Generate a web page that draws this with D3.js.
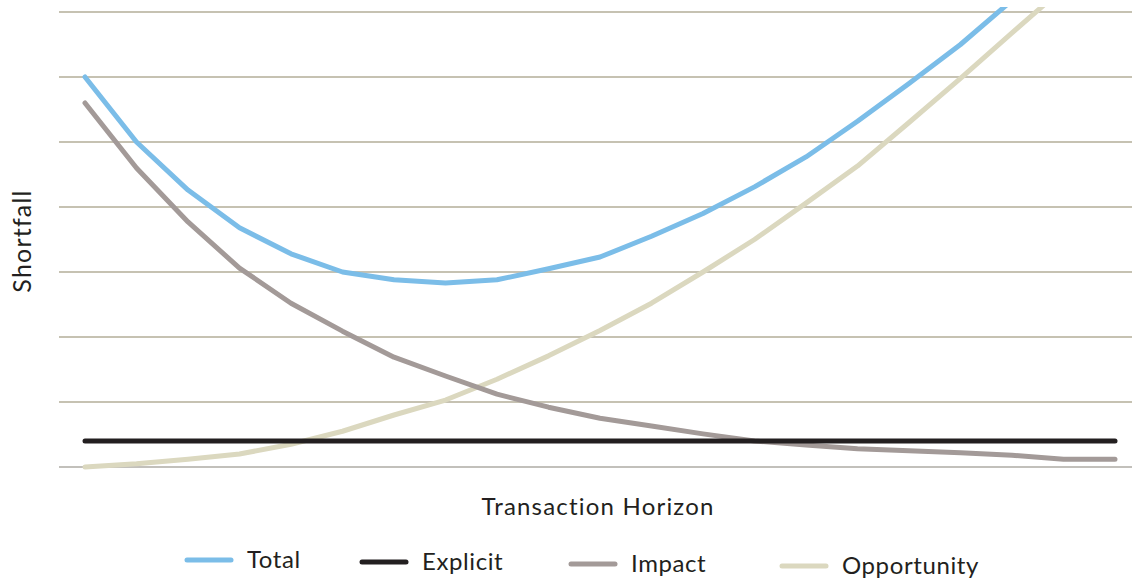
<!DOCTYPE html>
<html>
<head>
<meta charset="utf-8">
<script src="https://d3js.org/d3.v7.min.js"></script>
<style>
  body { margin: 0; background: #fff; }
  text { font-family: Lato, "Open Sans", sans-serif; fill: #231f20; }
</style>
</head>
<body>
<svg id="chart" width="1132" height="581"></svg>
<script>
  // horizon steps 0..20
  var steps = d3.range(21)
  var total = [6.0, 5.0, 4.26, 3.68, 3.28, 3.0, 2.88, 2.83, 2.88, 3.05, 3.23, 3.55, 3.9, 4.31, 4.77, 5.32, 5.9, 6.5, 7.18, 7.9, 8.7]
  var explicit = [0.4, 0.4, 0.4, 0.4, 0.4, 0.4, 0.4, 0.4, 0.4, 0.4, 0.4, 0.4, 0.4, 0.4, 0.4, 0.4, 0.4, 0.4, 0.4, 0.4, 0.4]
  var impact = [5.6, 4.6, 3.77, 3.06, 2.52, 2.09, 1.69, 1.4, 1.12, 0.92, 0.75, 0.63, 0.51, 0.4, 0.34, 0.28, 0.25, 0.22, 0.18, 0.12, 0.12]
  var opportunity = [0, 0.05, 0.12, 0.2, 0.35, 0.55, 0.8, 1.03, 1.35, 1.71, 2.1, 2.52, 3.0, 3.5, 4.06, 4.63, 5.3, 5.98, 6.68, 7.37, 8.1]
  var gridTicks = [1, 2, 3, 4, 5, 6, 7]
  var seriesNames = ["Total", "Explicit", "Impact", "Opportunity"]

  var colors = {Total: "#7bbde8", Explicit: "#231f20", Impact: "#a39a98", Opportunity: "#dbd8bf"}
  var seriesData = {Total: total, Explicit: explicit, Impact: impact, Opportunity: opportunity}

  var svg = d3.select("#chart")
  var margin = {top: 7, left: 59, right: 0, bottom: 114}
  var width = 1132, height = 581

  var x = d3.scaleLinear().domain([0, 20]).range([85, 1115])
  var y = d3.scaleLinear().domain([0, 7]).range([467, 12])

  // gridlines
  svg.append("g")
    .selectAll("line")
    .data(gridTicks)
    .join("line")
    .attr("x1", margin.left)
    .attr("x2", width)
    .attr("y1", d => y(d))
    .attr("y2", d => y(d))
    .attr("stroke", "#b3ae98")
    .attr("stroke-width", 1.3)

  svg.append("line")
    .attr("x1", margin.left)
    .attr("x2", width)
    .attr("y1", y(0))
    .attr("y2", y(0))
    .attr("stroke", "#c2c0bb")
    .attr("stroke-width", 2)

  svg.append("clipPath").attr("id", "clip")
    .append("rect")
    .attr("x", 0).attr("y", margin.top)
    .attr("width", width).attr("height", height - margin.top)

  var line = d3.line()
    .x((d, i) => x(steps[i]))
    .y(d => y(d))

  var drawOrder = ["Opportunity", "Impact", "Explicit", "Total"]
  svg.append("g")
    .attr("clip-path", "url(#clip)")
    .selectAll("path")
    .data(drawOrder)
    .join("path")
    .attr("d", d => line(seriesData[d]))
    .attr("fill", "none")
    .attr("stroke", d => colors[d])
    .attr("stroke-width", 5)
    .attr("stroke-linecap", "round")
    .attr("stroke-linejoin", "round")

  // axis titles
  svg.append("text")
    .attr("transform", "translate(31,241) rotate(-90)")
    .attr("text-anchor", "middle")
    .style("font-size", "25px")
    .style("letter-spacing", "1.2px")
    .text("Shortfall")

  svg.append("text")
    .attr("x", 598)
    .attr("y", 515)
    .attr("text-anchor", "middle")
    .style("font-size", "24px")
    .style("letter-spacing", "1.2px")
    .text("Transaction Horizon")

  // legend
  var legendX = [187, 362, 571, 782]
  var legendY = [560, 562, 564, 566]
  var legend = svg.append("g")
    .selectAll("g")
    .data(seriesNames)
    .join("g")
    .attr("transform", (d, i) => `translate(${legendX[i]},${legendY[i]})`)

  legend.append("line")
    .attr("x1", 0).attr("x2", 44)
    .attr("stroke", d => colors[d])
    .attr("stroke-width", 5)
    .attr("stroke-linecap", "round")

  legend.append("text")
    .attr("x", 60)
    .attr("y", 8)
    .style("font-size", "24px")
    .style("letter-spacing", "0.6px")
    .text(d => d)
</script>
</body>
</html>
